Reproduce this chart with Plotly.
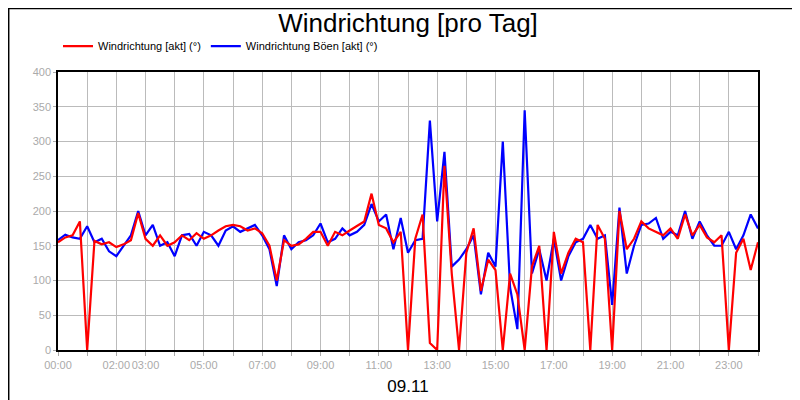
import plotly.graph_objects as go

# Zeit in Stunden (15-Minuten-Raster)
hours = [i * 0.25 for i in range(97)]

richtung = [155, 162, 165, 185, 0, 157, 152, 155, 148, 152, 158, 197, 160, 150, 165, 150,
            155, 165, 158, 168, 160, 165, 172, 178, 180, 178, 172, 175, 168, 150, 100, 158,
            150, 152, 160, 170, 170, 150, 170, 165, 172, 178, 185, 225, 180, 175, 155, 170,
            0, 160, 195, 10, 0, 265, 110, 0, 140, 175, 85, 130, 115, 0, 110, 80,
            0, 120, 150, 0, 170, 110, 140, 160, 155, 0, 180, 160, 0, 200, 145, 160,
            185, 175, 170, 165, 175, 160, 195, 165, 180, 162, 155, 165, 0, 140, 160, 115, 155]
boeen = [158, 166, 162, 160, 178, 155, 160, 142, 135, 150, 165, 200, 165, 180, 150, 155,
         135, 165, 167, 150, 170, 165, 150, 172, 178, 170, 175, 180, 165, 145, 92, 165,
         145, 155, 158, 165, 182, 155, 160, 175, 165, 170, 180, 210, 185, 195, 145, 190,
         140, 158, 160, 330, 185, 285, 120, 130, 145, 165, 80, 140, 120, 300, 90, 30,
         345, 110, 145, 100, 160, 100, 135, 155, 160, 180, 160, 165, 65, 205, 110, 150,
         180, 182, 190, 160, 170, 165, 200, 160, 185, 165, 150, 150, 170, 145, 165, 195, 175]

tick_vals = list(range(25))
tick_labels = {0: "00:00", 2: "02:00", 3: "03:00", 5: "05:00", 7: "07:00", 9: "09:00",
               11: "11:00", 13: "13:00", 15: "15:00", 17: "17:00", 19: "19:00",
               21: "21:00", 23: "23:00"}
tick_text = [tick_labels.get(v, "") for v in tick_vals]

fig = go.Figure()
# blau zuerst, rot darüber
fig.add_trace(go.Scatter(x=hours, y=boeen, mode="lines", name="Windrichtung Böen [akt] (°)",
                         line=dict(color="#0000ff", width=2.2), legendrank=2))
fig.add_trace(go.Scatter(x=hours, y=richtung, mode="lines", name="Windrichtung [akt] (°)",
                         line=dict(color="#ff0000", width=2.2), legendrank=1))

fig.update_layout(
    width=800, height=400,
    margin=dict(l=50, r=50, t=64, b=58, autoexpand=False),
    paper_bgcolor="white", plot_bgcolor="white",
    font=dict(family="Liberation Sans, Arial", size=11, color="black"),
    title=dict(text="Windrichtung [pro Tag]", x=0.5, xanchor="center", y=0.985, yanchor="top",
               font=dict(size=26, color="black")),
    legend=dict(orientation="h", x=0.0, xanchor="left", y=1.145, yanchor="top",
                font=dict(size=11), bgcolor="rgba(0,0,0,0)", itemwidth=30),
    showlegend=True,
    xaxis=dict(range=[0, 24], tickvals=tick_vals, ticktext=tick_text, tickangle=0,
               automargin=False, showgrid=True,
               gridcolor="#bbbbbb", gridwidth=1, showline=True, linecolor="black",
               linewidth=1.5, mirror=True, ticks="outside", tickcolor="#aaaaaa", ticklen=4,
               tickfont=dict(color="#aaaaaa", size=11), zeroline=False,
               title=dict(text="09.11", font=dict(size=17, color="black"), standoff=10)),
    yaxis=dict(range=[0, 400], dtick=50, automargin=False, showgrid=True,
               gridcolor="#bbbbbb", gridwidth=1,
               showline=True, linecolor="black", linewidth=1.5, mirror=True, ticks="outside",
               tickcolor="#aaaaaa", ticklen=3, tickfont=dict(color="#aaaaaa", size=11),
               zeroline=False),
)
# Rahmen um das ganze Bild
fig.add_shape(type="rect", xref="paper", yref="paper",
              x0=-50 / 700 + 0.001, x1=750 / 700 - 0.001, y0=-58 / 278 + 0.002, y1=342 / 278 - 0.002,
              line=dict(color="black", width=1.5), layer="below")

fig.write_html("out.html")
